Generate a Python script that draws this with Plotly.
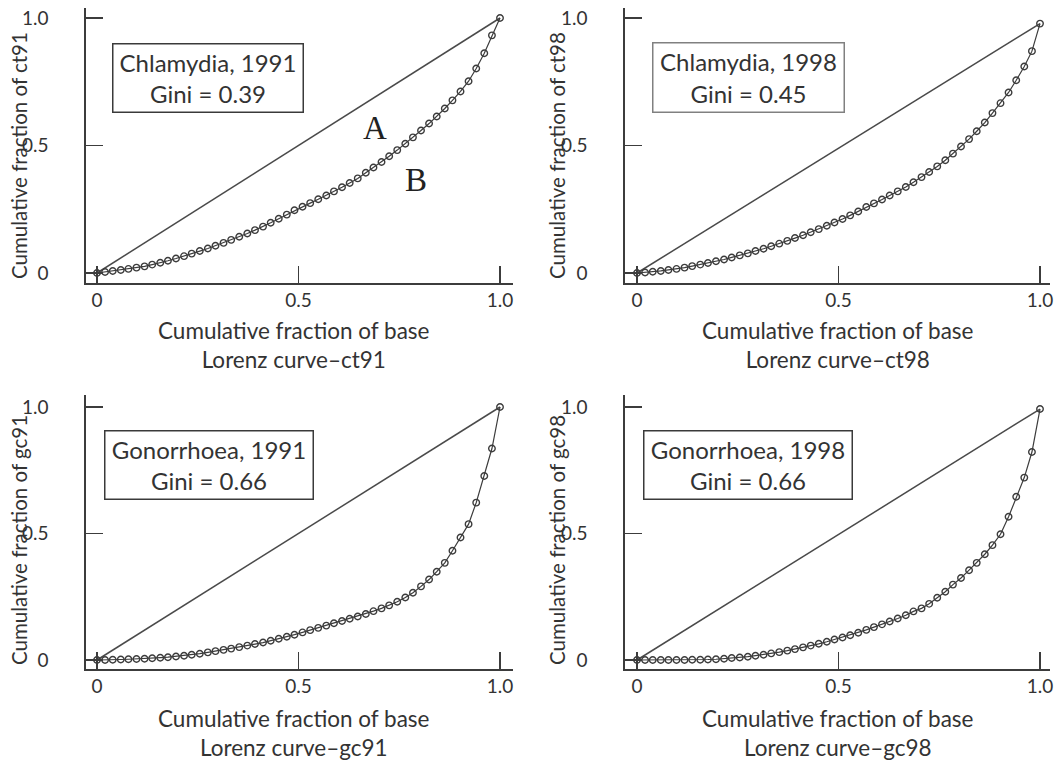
import plotly.graph_objects as go

W, H = 1062, 764

# cumulative fraction of base (52 evenly spaced areas)
base_frac = [0.000, 0.020, 0.039, 0.059, 0.078, 0.098, 0.118, 0.137, 0.157, 0.176,
             0.196, 0.216, 0.235, 0.255, 0.275, 0.294, 0.314, 0.333, 0.353, 0.373,
             0.392, 0.412, 0.431, 0.451, 0.471, 0.490, 0.510, 0.529, 0.549, 0.569,
             0.588, 0.608, 0.627, 0.647, 0.667, 0.686, 0.706, 0.725, 0.745, 0.765,
             0.784, 0.804, 0.824, 0.843, 0.863, 0.882, 0.902, 0.922, 0.941, 0.961,
             0.980, 1.000]

ct91 = [0.000, 0.004, 0.008, 0.012, 0.016, 0.021, 0.026, 0.033, 0.040, 0.048,
        0.057, 0.066, 0.076, 0.086, 0.096, 0.107, 0.118, 0.130, 0.142, 0.155,
        0.168, 0.182, 0.197, 0.213, 0.229, 0.246, 0.260, 0.274, 0.289, 0.304,
        0.320, 0.336, 0.353, 0.371, 0.393, 0.414, 0.435, 0.458, 0.482, 0.507,
        0.532, 0.559, 0.586, 0.614, 0.645, 0.677, 0.712, 0.752, 0.802, 0.862,
        0.932, 1.000]

ct98 = [0.000, 0.002, 0.005, 0.008, 0.012, 0.016, 0.021, 0.027, 0.033, 0.039,
        0.046, 0.053, 0.061, 0.069, 0.077, 0.086, 0.095, 0.105, 0.115, 0.126,
        0.137, 0.148, 0.160, 0.172, 0.185, 0.198, 0.212, 0.226, 0.241, 0.259,
        0.273, 0.288, 0.304, 0.320, 0.337, 0.356, 0.376, 0.396, 0.418, 0.442,
        0.468, 0.496, 0.525, 0.556, 0.590, 0.627, 0.666, 0.708, 0.756, 0.810,
        0.870, 0.978]

gc91 = [0.000, 0.000, 0.001, 0.002, 0.003, 0.004, 0.005, 0.007, 0.009, 0.011,
        0.014, 0.017, 0.021, 0.025, 0.030, 0.035, 0.040, 0.045, 0.051, 0.057,
        0.063, 0.069, 0.076, 0.084, 0.092, 0.100, 0.109, 0.118, 0.127, 0.136,
        0.145, 0.154, 0.163, 0.172, 0.182, 0.193, 0.204, 0.216, 0.230, 0.247,
        0.266, 0.291, 0.318, 0.349, 0.384, 0.432, 0.484, 0.537, 0.622, 0.727,
        0.836, 1.000]

gc98 = [0.000, 0.000, 0.000, 0.000, 0.000, 0.000, 0.000, 0.001, 0.001, 0.002,
        0.003, 0.005, 0.008, 0.010, 0.013, 0.017, 0.021, 0.026, 0.031, 0.037,
        0.043, 0.050, 0.057, 0.064, 0.072, 0.081, 0.089, 0.098, 0.108, 0.119,
        0.130, 0.141, 0.152, 0.164, 0.177, 0.192, 0.204, 0.222, 0.246, 0.270,
        0.298, 0.324, 0.355, 0.384, 0.418, 0.454, 0.497, 0.566, 0.645, 0.721,
        0.822, 0.992]

series_names = ["ct91", "ct98", "gc91", "gc98"]
series_vals = [ct91, ct98, gc91, gc98]
box_titles = ["Chlamydia, 1991", "Chlamydia, 1998", "Gonorrhoea, 1991", "Gonorrhoea, 1998"]
gini_vals = ["0.39", "0.45", "0.66", "0.66"]
tick_vals = [0, 0.5, 1.0]
tick_text = ["0", "0.5", "1.0"]

FONT = "Lato"
TXT = "#333333"
LINE = "#3c3c3c"


def px(x):
    return x / W


def py(y):
    return 1 - y / H


# panel geometry in pixels
panels = [
    dict(xl=86, xr=513, yt=8, yb=283, x0=97, x1=500, y0=273, y1=18),
    dict(xl=625, xr=1050, yt=8, yb=283, x0=637, x1=1040, y0=273, y1=18),
    dict(xl=86, xr=513, yt=395, yb=669, x0=97, x1=500, y0=660, y1=407),
    dict(xl=625, xr=1050, yt=395, yb=669, x0=637, x1=1040, y0=660, y1=407),
]
boxes = [(112, 43, 303, 112), (652, 42, 844, 112), (104, 430, 313, 499), (643, 430, 852, 499)]
box_colors = ["#3a3a3a", "#808080", "#3a3a3a", "#3a3a3a"]
xtitle_pos = [(294, 345), (838, 345), (294, 733), (838, 733)]
ytitle_pos = [(19, 156), (557, 156), (19, 540), (557, 540)]

fig = go.Figure()
layout = dict(
    width=W, height=H, margin=dict(l=0, r=0, t=0, b=0, autoexpand=False),
    paper_bgcolor="white", plot_bgcolor="white", showlegend=False,
    font=dict(family=FONT, color=TXT, size=20),
)
annotations = []

for i, (p, name, vals) in enumerate(zip(panels, series_names, series_vals)):
    k = "" if i == 0 else str(i + 1)
    xa, ya = "x" + k, "y" + k
    sx = (p["x1"] - p["x0"])
    sy = (p["y0"] - p["y1"])
    xr = [(p["xl"] - p["x0"]) / sx, (p["xr"] - p["x0"]) / sx]
    yr = [(p["y0"] - p["yb"]) / sy, (p["y0"] - p["yt"]) / sy]
    common = dict(showline=True, linecolor=LINE, linewidth=1.6, ticks="inside",
                  ticklen=17, tickwidth=1.5, tickcolor=LINE, showgrid=False,
                  zeroline=False, tickvals=tick_vals, ticktext=tick_text,
                  automargin=False,
                  tickfont=dict(family=FONT, size=19, color=TXT), fixedrange=True)
    layout["xaxis" + k] = dict(domain=[px(p["xl"]), px(p["xr"])], anchor=ya, range=xr,
                               ticklabelstandoff=0, **common)
    layout["yaxis" + k] = dict(domain=[py(p["yb"]), py(p["yt"])], anchor=xa, range=yr,
                               ticklabelstandoff=32, **common)

    # line of equality, from first to last point of the curve
    fig.add_trace(go.Scatter(x=[base_frac[0], base_frac[-1]], y=[vals[0], vals[-1]],
                             mode="lines", line=dict(color="#4a4a4a", width=1.5),
                             xaxis=xa, yaxis=ya, hoverinfo="skip"))
    # Lorenz curve
    fig.add_trace(go.Scatter(x=base_frac, y=vals, mode="lines+markers",
                             line=dict(color=LINE, width=1.2),
                             marker=dict(symbol="circle-open", size=6.5,
                                         line=dict(color=LINE, width=1.4)),
                             xaxis=xa, yaxis=ya, name=name))

    bx0, by0, bx1, by1 = boxes[i]
    annotations.append(dict(
        xref="paper", yref="paper", x=px(bx0), y=py(by0), xanchor="left", yanchor="top",
        text=f"{box_titles[i]}<br>Gini = {gini_vals[i]}", showarrow=False,
        width=bx1 - bx0 - 2, height=by1 - by0 - 2, borderpad=0, borderwidth=1.5,
        bordercolor=box_colors[i], bgcolor="white", align="center",
        font=dict(family=FONT, size=24, color=TXT)))

    tx, ty = xtitle_pos[i]
    annotations.append(dict(
        xref="paper", yref="paper", x=px(tx), y=py(ty), xanchor="center", yanchor="middle",
        text=f"Cumulative fraction of base<br>Lorenz curve\u2013{name}", showarrow=False,
        align="center", font=dict(family=FONT, size=22.5, color=TXT)))

    yx, yy = ytitle_pos[i]
    annotations.append(dict(
        xref="paper", yref="paper", x=px(yx), y=py(yy), xanchor="center", yanchor="middle",
        text=f"Cumulative fraction of {name}", textangle=-90, showarrow=False,
        font=dict(family=FONT, size=20.5, color=TXT)))

# A and B labels in first panel
annotations.append(dict(xref="paper", yref="paper", x=px(375), y=py(128), text="A",
                        xanchor="center", yanchor="middle",
                        showarrow=False, font=dict(family="Liberation Serif", size=33, color="#222")))
annotations.append(dict(xref="paper", yref="paper", x=px(416), y=py(180), text="B",
                        xanchor="center", yanchor="middle",
                        showarrow=False, font=dict(family="Liberation Serif", size=33, color="#222")))

layout["annotations"] = annotations
fig.update_layout(**layout)
fig.write_html("out.html", config={"displayModeBar": False, "staticPlot": True},
               post_script="document.body.style.margin='0';document.body.style.padding='0';"
                           "document.body.style.overflow='hidden';")
